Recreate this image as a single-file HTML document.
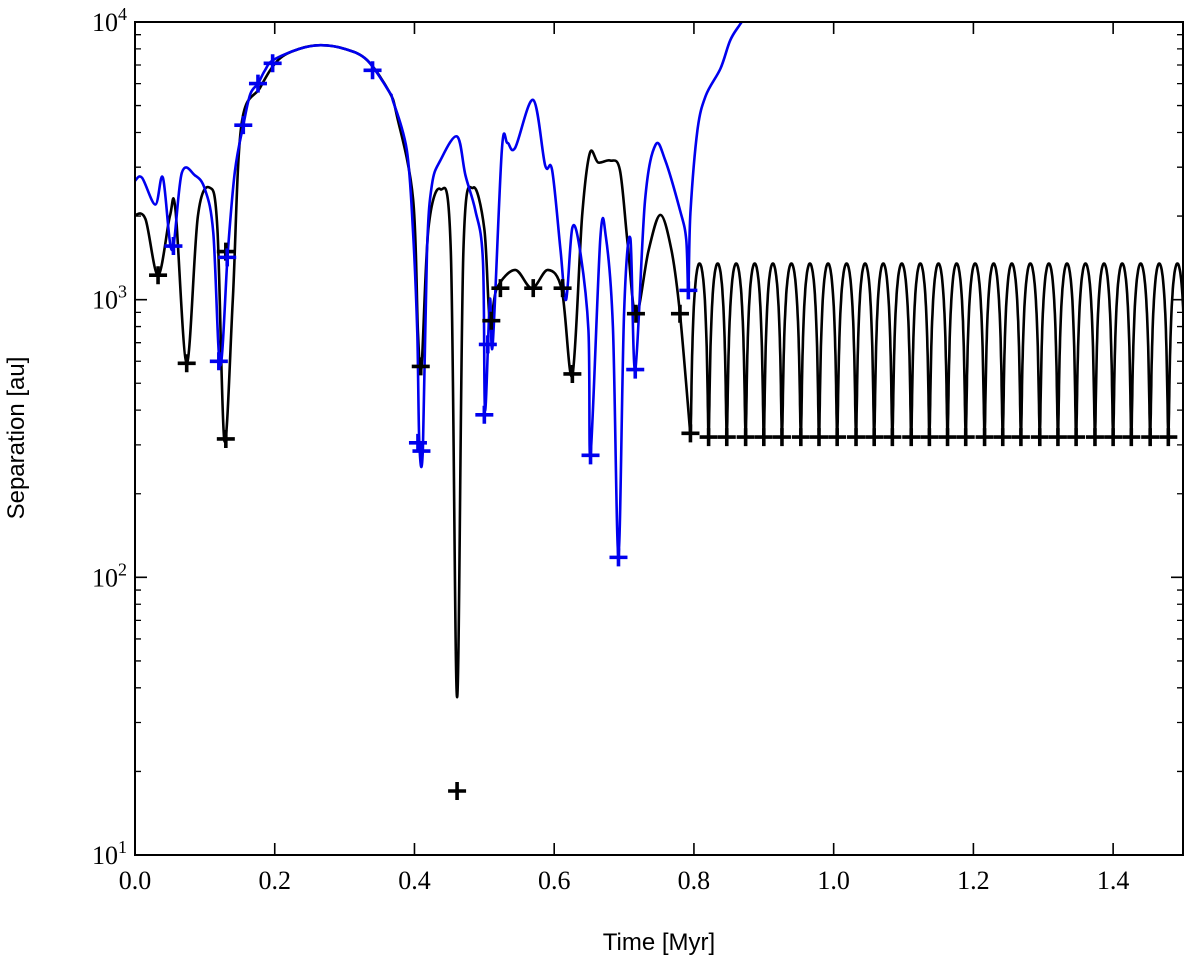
<!DOCTYPE html>
<html><head><meta charset="utf-8"><style>
body{margin:0;background:#fff;}
svg{display:block;}
.tl{font-family:"Liberation Serif",serif;font-size:26px;fill:#000;}
.at{font-family:"Liberation Sans",sans-serif;font-size:24px;fill:#000;}
</style></head><body>
<svg id="chart" width="1200" height="972" viewBox="0 0 1200 972" xmlns="http://www.w3.org/2000/svg">
<g id="clipdefs"><clipPath id="pc"><rect x="135" y="22" width="1048" height="833"/></clipPath></g>
<g id="lines" clip-path="url(#pc)"></g>
<g id="marks" clip-path="url(#pc)"></g>
<g id="axes"></g>
<text class="at" x="659" y="950" text-anchor="middle">Time [Myr]</text>
<text class="at" transform="translate(24,438) rotate(-90)" text-anchor="middle">Separation [au]</text>
</svg>
<script>
const blackT=[0,0.015,0.033,0.05,0.058,0.074,0.09,0.107,0.118,0.128,0.14,0.152,0.179,0.205,0.235,0.266,0.3,0.332,0.364,0.375,0.398,0.405,0.41,0.42,0.437,0.452,0.461,0.47,0.484,0.5,0.508,0.518,0.544,0.568,0.591,0.611,0.626,0.64,0.651,0.663,0.68,0.694,0.705,0.717,0.735,0.752,0.768,0.78,0.795];
const blackV=[2020,1950,1225,2000,2100,590,2000,2530,1800,310,1000,4200,5800,7300,8000,8250,8000,7300,5600,4580,2300,757,570,1800,2500,1500,37,1500,2530,1800,840,1100,1280,1100,1280,1080,535,2000,3370,3120,3170,2930,1600,880,1500,2020,1500,890,325];
const blueT=[0,0.01,0.029,0.04,0.053,0.067,0.086,0.1,0.112,0.122,0.133,0.143,0.155,0.165,0.176,0.186,0.198,0.235,0.266,0.3,0.332,0.364,0.369,0.389,0.398,0.404,0.407,0.412,0.418,0.425,0.437,0.461,0.473,0.487,0.498,0.501,0.508,0.512,0.525,0.533,0.544,0.57,0.587,0.597,0.609,0.617,0.626,0.637,0.649,0.652,0.666,0.674,0.684,0.692,0.7,0.709,0.716,0.73,0.745,0.759,0.78,0.789,0.792,0.795,0.805,0.817,0.838,0.852,0.866,0.88,0.89];
const blueV=[2680,2750,2200,2750,1510,2860,2800,2500,1740,580,1500,2900,4250,5500,6000,6700,7300,8000,8250,8000,7300,5600,5230,3460,1740,757,300,290,1500,2590,3170,3870,2800,2100,1390,400,1000,690,3440,3670,3520,5240,3050,2930,1510,1000,1820,1500,780,275,1660,1680,800,120,900,1660,560,2270,3610,3170,2100,1650,1080,2050,4070,5430,6800,8600,9800,11000,12500];
const blackMarkT=[0.033,0.074,0.13,0.13,0.409,0.461,0.51,0.523,0.57,0.612,0.626,0.717,0.78,0.795];
const blackMarkV=[1225,590,315,1490,575,17,840,1100,1100,1100,540,890,890,330];
const blueMarkT=[0.055,0.12,0.132,0.155,0.176,0.197,0.34,0.405,0.41,0.5,0.505,0.652,0.692,0.716,0.792];
const blueMarkV=[1560,600,1420,4250,6000,7100,6700,305,285,385,690,275,118,560,1080];
const periTimes=[0.795,0.821,0.847,0.874,0.900,0.926,0.953,0.979,1.005,1.032,1.058,1.084,1.111,1.137,1.163,1.189,1.216,1.242,1.268,1.295,1.321,1.347,1.374,1.400,1.426,1.453,1.479,1.505];
const periV=[320];
const apoV=[1350];
const xTicks=[0,0.2,0.4,0.6,0.8,1.0,1.2,1.4];
const xTickLabels=["0.0","0.2","0.4","0.6","0.8","1.0","1.2","1.4"];
const yTicks=[1,2,3,4];

const X0=135,X1=1183,Y0=855,Y1=22,XMAX=1.5;
function xs(t){return X0+(X1-X0)*t/XMAX;}
function ys(v){return Y0-(Y0-Y1)*(Math.log10(v)-1)/3;}
const NS="http://www.w3.org/2000/svg";
function mk(tag,attrs,parent){const e=document.createElementNS(NS,tag);for(const k in attrs)e.setAttribute(k,attrs[k]);parent.appendChild(e);return e;}
function smoothPath(px){let d="M"+px[0][0].toFixed(1)+","+px[0][1].toFixed(1);
 for(let i=0;i<px.length-1;i++){const p0=px[Math.max(0,i-1)],p1=px[i],p2=px[i+1],p3=px[Math.min(px.length-1,i+2)];
  const c1=[p1[0]+(p2[0]-p0[0])/6,p1[1]+(p2[1]-p0[1])/6],c2=[p2[0]-(p3[0]-p1[0])/6,p2[1]-(p3[1]-p1[1])/6];
  d+="C"+c1[0].toFixed(1)+","+c1[1].toFixed(1)+" "+c2[0].toFixed(1)+","+c2[1].toFixed(1)+" "+p2[0].toFixed(1)+","+p2[1].toFixed(1);}
 return d;}
const lines=document.getElementById('lines'),marks=document.getElementById('marks'),axes=document.getElementById('axes');
let bpx=blackT.map((t,i)=>[xs(t),ys(blackV[i])]);
let bp=mk('path',{d:smoothPath(bpx),fill:'none',stroke:'#000','stroke-width':2.6,'stroke-linejoin':'round'},lines);


const a=(apoV[0]+periV[0])/2,e=(apoV[0]-periV[0])/(apoV[0]+periV[0]);
let od="";
for(let k=0;k<periTimes.length-1;k++){const tp=periTimes[k],P=periTimes[k+1]-tp;
 for(let j=0;j<=60;j++){const E=2*Math.PI*j/60;const t=tp+P*(E-e*Math.sin(E))/(2*Math.PI);const r=a*(1-e*Math.cos(E));
  od+=(od===""?"M":"L")+xs(t).toFixed(1)+","+ys(r).toFixed(1);}}
let op=mk('path',{d:od,fill:'none',stroke:'#000','stroke-width':2.6,'stroke-linejoin':'round'},lines);


let upx=blueT.map((t,i)=>[xs(t),ys(blueV[i])]);
let up=mk('path',{d:smoothPath(upx),fill:'none',stroke:'#0000ee','stroke-width':2.6,'stroke-linejoin':'round'},lines);


function plus(x,y,c,name){const g=mk('g',{},marks);
 
 
 mk('path',{d:`M${x-9},${y}H${x+9}M${x},${y-9}V${y+9}`,stroke:c,'stroke-width':3.6},g);}
blackMarkT.forEach((t,i)=>plus(xs(t),ys(blackMarkV[i]),'#000','black-pericentre-marker'));
periTimes.slice(1).forEach(t=>{if(t<=XMAX)plus(xs(t),ys(periV[0]),'#000','black-orbit-pericentre-marker');});
blueMarkT.forEach((t,i)=>plus(xs(t),ys(blueMarkV[i]),'#0000ee','blue-pericentre-marker'));
let fr=mk('rect',{x:X0,y:Y1,width:X1-X0,height:Y0-Y1,fill:'none',stroke:'#000','stroke-width':2},axes);


xTicks.forEach((t,i)=>{const x=xs(t);
 mk('path',{d:`M${x},${Y0}v-12M${x},${Y1}v12`,stroke:'#000','stroke-width':1.6},axes);
 const tx=mk('text',{x:x,y:Y0+34,'text-anchor':'middle',class:'tl'},axes);tx.textContent=xTickLabels[i];
 
 });
for(let d=1;d<=4;d++){const y=ys(Math.pow(10,d));
 mk('path',{d:`M${X0},${y}h12M${X1},${y}h-12`,stroke:'#000','stroke-width':1.6},axes);
 const tx=mk('text',{x:X0-8,y:y+9,'text-anchor':'end',class:'tl'},axes);
 
 
 tx.innerHTML='10<tspan dy="-11" font-size="18">'+d+'</tspan>';
 if(d<4)for(let m=2;m<=9;m++){const ym=ys(m*Math.pow(10,d));
  mk('path',{d:`M${X0},${ym}h6M${X1},${ym}h-6`,stroke:'#000','stroke-width':1.3},axes);}}
</script>
</body></html>
